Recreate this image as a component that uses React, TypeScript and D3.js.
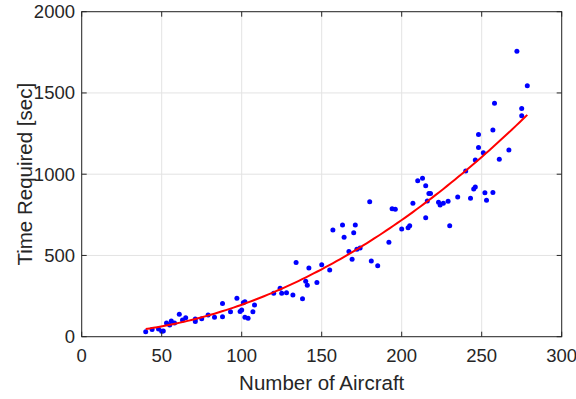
import React from "react";
import * as d3 from "d3";

// Scenario size (number of aircraft) vs. solver runtime in seconds
const aircraft: number[] = [
  40, 44, 48, 50, 51, 53, 55, 56, 58, 61, 63, 65, 71, 71, 75, 79, 83, 88, 88, 93,
  97, 99, 100, 101, 102, 102, 104, 107, 108, 120, 124, 125, 128, 132, 138, 134, 142, 150, 155, 140,
  141, 147, 157, 163, 164, 170, 171, 167, 169, 172, 174, 180, 181, 185, 192, 194, 196, 200, 204, 205,
  207, 210, 213, 215, 217, 218, 216, 223, 224, 226, 229, 235, 243, 245, 246, 252, 253, 257, 240, 215,
  230, 258, 275, 275, 257, 248, 248, 251, 267, 246, 261, 272, 278.5,
];
const timeSec: number[] = [
  31, 45, 48, 33, 35, 85, 72, 96, 85, 138, 103, 116, 109, 93, 111, 133, 120, 205, 123, 154,
  237, 155, 165, 209, 215, 119, 113, 154, 195, 267, 298, 267, 271, 257, 234, 456, 423, 443, 411, 341,
  316, 333, 657, 687, 612, 640, 687, 525, 476, 538, 546, 831, 466, 437, 581, 788, 784, 663, 671, 683,
  821, 960, 975, 929, 882, 882, 835, 827, 810, 821, 834, 860, 852, 909, 921, 886, 839, 888, 1020, 732,
  683, 1436, 1405, 1360, 1272, 1245, 1165, 1132, 1149, 1087, 1092, 1756, 1545,
];

// Quadratic trend: time = c0 + c1*n + c2*n^2, drawn over the observed range
const fitCoeffs: number[] = [15, 0.121, 0.01697];
const fitRange: number[] = [40, 278.5];

const xTicks: number[] = [0, 50, 100, 150, 200, 250, 300];
const yTicks: number[] = [0, 500, 1000, 1500, 2000];

const W = 576;
const H = 399;
const left = 81.7;
const right = 561.7;
const top = 11.7;
const bottom = 336.7;

export default function App() {
  const x = d3.scaleLinear().domain([0, 300]).range([left, right]);
  const y = d3.scaleLinear().domain([0, 2000]).range([bottom, top]);

  const fitPts: [number, number][] = d3
    .range(0, 101)
    .map((i) => fitRange[0] + ((fitRange[1] - fitRange[0]) * i) / 100)
    .map((n) => [n, fitCoeffs[0] + fitCoeffs[1] * n + fitCoeffs[2] * n * n]);
  const line = d3
    .line<[number, number]>()
    .x((d) => x(d[0]))
    .y((d) => y(d[1]))
    .curve(d3.curveLinear);

  const font = "'Liberation Sans', Arial, Helvetica, sans-serif";
  const axisColor = "#262626";
  const tickLen = 5;

  return (
    <svg
      width={W}
      height={H}
      style={{ position: "absolute", left: 0, top: 0, background: "#fff" }}
      fontFamily={font}
    >
      {/* grid */}
      {xTicks.map((t) => (
        <line key={"gx" + t} x1={x(t)} x2={x(t)} y1={top} y2={bottom} stroke="#e3e3e3" strokeWidth={1} />
      ))}
      {yTicks.map((t) => (
        <line key={"gy" + t} x1={left} x2={right} y1={y(t)} y2={y(t)} stroke="#e3e3e3" strokeWidth={1} />
      ))}

      {/* data */}
      {aircraft.map((n, i) => (
        <circle key={"p" + i} cx={x(n)} cy={y(timeSec[i])} r={2.5} fill="#0000ff" />
      ))}
      <path d={line(fitPts) || ""} fill="none" stroke="#ff0000" strokeWidth={2} />

      {/* axes box and ticks */}
      <rect x={left} y={top} width={right - left} height={bottom - top} fill="none" stroke={axisColor} strokeWidth={1} />
      {xTicks.map((t) => (
        <g key={"tx" + t}>
          <line x1={x(t)} x2={x(t)} y1={bottom} y2={bottom - tickLen} stroke={axisColor} />
          <line x1={x(t)} x2={x(t)} y1={top} y2={top + tickLen} stroke={axisColor} />
          <text x={x(t)} y={361.5} textAnchor="middle" fontSize={18.5} fill={axisColor}>
            {t}
          </text>
        </g>
      ))}
      {yTicks.map((t) => (
        <g key={"ty" + t}>
          <line x1={left} x2={left + tickLen} y1={y(t)} y2={y(t)} stroke={axisColor} />
          <line x1={right} x2={right - tickLen} y1={y(t)} y2={y(t)} stroke={axisColor} />
          <text x={75} y={y(t)} dy="0.35em" textAnchor="end" fontSize={18.5} fill={axisColor}>
            {t}
          </text>
        </g>
      ))}

      {/* axis titles */}
      <text x={(left + right) / 2} y={390} textAnchor="middle" fontSize={20.5} fill={axisColor}>
        Number of Aircraft
      </text>
      <text
        transform={`translate(32, ${(top + bottom) / 2}) rotate(-90)`}
        textAnchor="middle"
        fontSize={20.5}
        fill={axisColor}
      >
        Time Required [sec]
      </text>
    </svg>
  );
}
